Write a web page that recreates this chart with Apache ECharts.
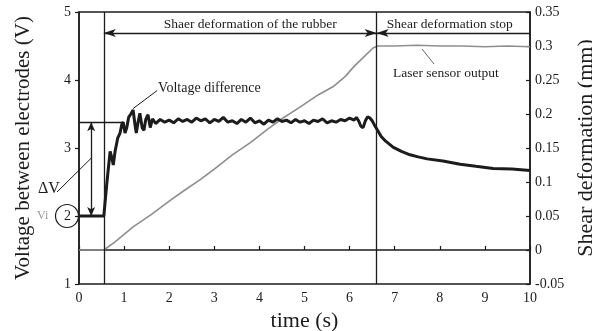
<!DOCTYPE html>
<html>
<head>
<meta charset="utf-8">
<script src="https://cdn.jsdelivr.net/npm/echarts@6/dist/echarts.min.js"></script>
<style>
  html, body { margin: 0; padding: 0; background: #fff; }
  #chart { width: 592px; height: 331px; }
</style>
</head>
<body>
<div id="chart"></div>
<script>

// voltage between electrodes (V) against time (s)
const voltTime = [0, 0.55, 0.62, 0.69, 0.73, 0.76, 0.8, 0.86, 0.91, 0.95, 0.98, 1.02, 1.06, 1.1, 1.15, 1.2, 1.24, 1.27, 1.31, 1.35, 1.4, 1.44, 1.48, 1.53, 1.58, 1.63, 1.7,
    1.8, 1.9, 2.0, 2.1, 2.2, 2.3, 2.4, 2.5, 2.6, 2.7, 2.8, 2.9, 3.0, 3.1, 3.2, 3.3, 3.4, 3.5, 3.6, 3.7, 3.8, 3.9, 4.0,
    4.1, 4.2, 4.3, 4.4, 4.5, 4.6, 4.7, 4.8, 4.9, 5.0, 5.1, 5.2, 5.3, 5.4, 5.5, 5.6, 5.7, 5.8, 5.9, 6.0, 6.1, 6.15, 6.2,
    6.25, 6.3, 6.35, 6.4, 6.45, 6.5, 6.55, 6.62, 6.7, 6.8, 6.97, 7.15, 7.34, 7.52, 7.72, 8.07, 8.45, 8.8, 9.18, 9.6, 10];
const voltage = [2, 2, 2.5, 2.95, 2.85, 2.75, 2.95, 3.15, 3.22, 3.35, 3.38, 3.22, 3.3, 3.45, 3.5, 3.56, 3.35, 3.22, 3.38, 3.51, 3.3, 3.26, 3.42, 3.49, 3.3, 3.43, 3.36,
    3.42, 3.38, 3.41, 3.37, 3.43, 3.39, 3.42, 3.38, 3.44, 3.40, 3.43, 3.37, 3.42, 3.39, 3.45, 3.38, 3.40, 3.36, 3.42, 3.38, 3.44, 3.37, 3.40,
    3.35, 3.41, 3.38, 3.43, 3.39, 3.41, 3.37, 3.42, 3.38, 3.40, 3.36, 3.41, 3.39, 3.43, 3.37, 3.40, 3.38, 3.42, 3.40, 3.44, 3.41, 3.45, 3.40,
    3.32, 3.30, 3.40, 3.46, 3.44, 3.40, 3.34, 3.26, 3.17, 3.10, 3.01, 2.95, 2.90, 2.87, 2.84, 2.81, 2.76, 2.73, 2.70, 2.69, 2.67];

// laser sensor output, shear deformation (mm)
const laserTime = [0, 0.55, 0.8, 1.2, 1.6, 2.0, 2.3, 2.68, 3.0, 3.4, 3.8, 4.17, 4.5, 4.9, 5.3, 5.63, 5.9, 6.1, 6.3, 6.52, 6.62, 7, 7.5, 8, 8.5, 9, 9.5, 10];
const laser = [0, 0, 0.012, 0.034, 0.052, 0.072, 0.086, 0.103, 0.119, 0.14, 0.158, 0.177, 0.193, 0.21, 0.228, 0.24, 0.255, 0.27, 0.283, 0.297, 0.3, 0.3, 0.301, 0.3, 0.3, 0.299, 0.3, 0.299];

// event times and reference levels
const shearStart = 0.55;
const shearStop = 6.6;
const vInitial = 2;
const vSteady = 3.38;
const arrowLevel = 4.69;

const xTicks = { min: 0, max: 10, interval: 1 };
const yTicks = { min: 1, max: 5, interval: 1 };
const y2Ticks = { min: -0.05, max: 0.35, interval: 0.05 };

const serif = '"Liberation Serif", "DejaVu Serif", serif';
const ink = '#1c1c1c';
const grey = '#8e8e8e';

const chart = echarts.init(document.getElementById('chart'));

const axisCommon = {
    axisLine: { show: true, lineStyle: { color: ink, width: 1.5 } },
    axisTick: { show: true, length: 4, lineStyle: { color: ink, width: 1.2 } },
    axisLabel: { color: ink, fontFamily: serif, fontSize: 14 },
    splitLine: { show: false },
    nameTextStyle: { color: ink, fontFamily: serif, fontSize: 21 },
};

const option = {
    animation: false,
    backgroundColor: '#fff',
    grid: { left: 79, right: 62, top: 12, bottom: 47, outerBoundsMode: 'none', containLabel: false, show: true, borderColor: ink, borderWidth: 1.5 },
    xAxis: {
        ...axisCommon,
        type: 'value',
        ...xTicks,
        name: 'time (s)',
        nameLocation: 'middle',
        nameGap: 26,
        nameTextStyle: { ...axisCommon.nameTextStyle, fontSize: 22 },
        axisTick: { ...axisCommon.axisTick, inside: true },
        axisLabel: { ...axisCommon.axisLabel, margin: 7 },
    },
    yAxis: [
        {
            ...axisCommon,
            type: 'value',
            ...yTicks,
            name: 'Voltage between electrodes (V)',
            nameLocation: 'middle',
            nameGap: 45,
            axisLabel: { ...axisCommon.axisLabel, margin: 8 },
        },
        {
            ...axisCommon,
            type: 'value',
            position: 'right',
            ...y2Ticks,
            name: 'Shear deformation (mm)',
            nameLocation: 'middle',
            nameGap: 34,
            nameRotate: 90,
            nameTextStyle: { ...axisCommon.nameTextStyle, fontSize: 22 },
            axisTick: { ...axisCommon.axisTick, inside: true },
            axisLabel: { ...axisCommon.axisLabel, margin: 5, formatter: v => String(+v.toFixed(2)) },
        }
    ],
    series: [
        {
            name: 'Laser sensor output',
            type: 'line',
            yAxisIndex: 1,
            data: laserTime.map((t, i) => [t, laser[i]]),
            symbol: 'none',
            lineStyle: { color: grey, width: 1.6 },
            z: 2,
        },
        {
            name: 'Voltage difference',
            type: 'line',
            data: voltTime.map((t, i) => [t, voltage[i]]),
            symbol: 'none',
            lineStyle: { color: ink, width: 3 },
            z: 3,
            markLine: {
                silent: true,
                symbol: 'none',
                label: { show: false },
                lineStyle: { color: ink, width: 1.3, type: 'solid' },
                data: [
                    [{ coord: [shearStart, yTicks.min] }, { coord: [shearStart, yTicks.max] }],
                    [{ coord: [shearStop, yTicks.min] }, { coord: [shearStop, yTicks.max] }],
                    [{ coord: [0, vSteady] }, { coord: [1.0, vSteady] }],
                    [{ coord: [0.27, vSteady], symbol: 'arrow', symbolSize: [6, 9] }, { coord: [0.27, vInitial], symbol: 'arrow', symbolSize: [6, 9] }],
                    [{ coord: [shearStart, arrowLevel], symbol: 'arrow', symbolSize: [6, 12] }, { coord: [shearStop, arrowLevel], symbol: 'arrow', symbolSize: [6, 12] }],
                    [{ coord: [shearStop, arrowLevel], symbol: 'arrow', symbolSize: [6, 12] }, { coord: [xTicks.max, arrowLevel], symbol: 'none' }],
                ],
            },
        }
    ],
};

chart.setOption(option);

// annotations placed through the axes
const px = (t, v) => chart.convertToPixel({ xAxisIndex: 0, yAxisIndex: 0 }, [t, v]);
const textStyle = (txt, size, fill) => ({ text: txt, font: `${size}px ${serif}`, fill: fill || ink });

const tickTwo = px(0, vInitial);
const arrowTop = px(0.27, 2.85);
const peak = px(1.2, 3.58);
const topArrow = px(shearStart, arrowLevel);
const stopArrow = px(shearStop, arrowLevel);

chart.setOption({
    graphic: [
        { type: 'circle', shape: { cx: tickTwo[0] - 12, cy: tickTwo[1], r: 11.5 }, style: { fill: 'none', stroke: ink, lineWidth: 1.2 } },
        { type: 'text', x: tickTwo[0] - 42, y: tickTwo[1], style: { ...textStyle('Vi', 12, '#999'), verticalAlign: 'middle' } },
        { type: 'text', x: tickTwo[0] - 41, y: tickTwo[1] - 27, style: { ...textStyle('ΔV', 16), verticalAlign: 'middle' } },
        { type: 'line', shape: { x1: tickTwo[0] - 22, y1: tickTwo[1] - 24, x2: arrowTop[0], y2: arrowTop[1] }, style: { stroke: ink, lineWidth: 1 } },
        { type: 'text', x: peak[0] + 25, y: peak[1] - 20, style: { ...textStyle('Voltage difference', 14), verticalAlign: 'middle' } },
        { type: 'line', shape: { x1: peak[0] + 24, y1: peak[1] - 18, x2: peak[0], y2: peak[1] }, style: { stroke: ink, lineWidth: 1 } },
        { type: 'text', x: (topArrow[0] + stopArrow[0]) / 2 + 10, y: topArrow[1] - 9, style: { ...textStyle('Shaer deformation of the rubber', 13.5), align: 'center', verticalAlign: 'middle' } },
        { type: 'text', x: stopArrow[0] + 10, y: stopArrow[1] - 9, style: { ...textStyle('Shear deformation stop', 13.5), verticalAlign: 'middle' } },
        { type: 'text', x: 393, y: 73, style: { ...textStyle('Laser sensor output', 13.5), verticalAlign: 'middle' } },
        { type: 'line', shape: { x1: 422, y1: 49, x2: 434, y2: 64 }, style: { stroke: '#666', lineWidth: 1 } },
    ]
});

</script>
</body>
</html>
